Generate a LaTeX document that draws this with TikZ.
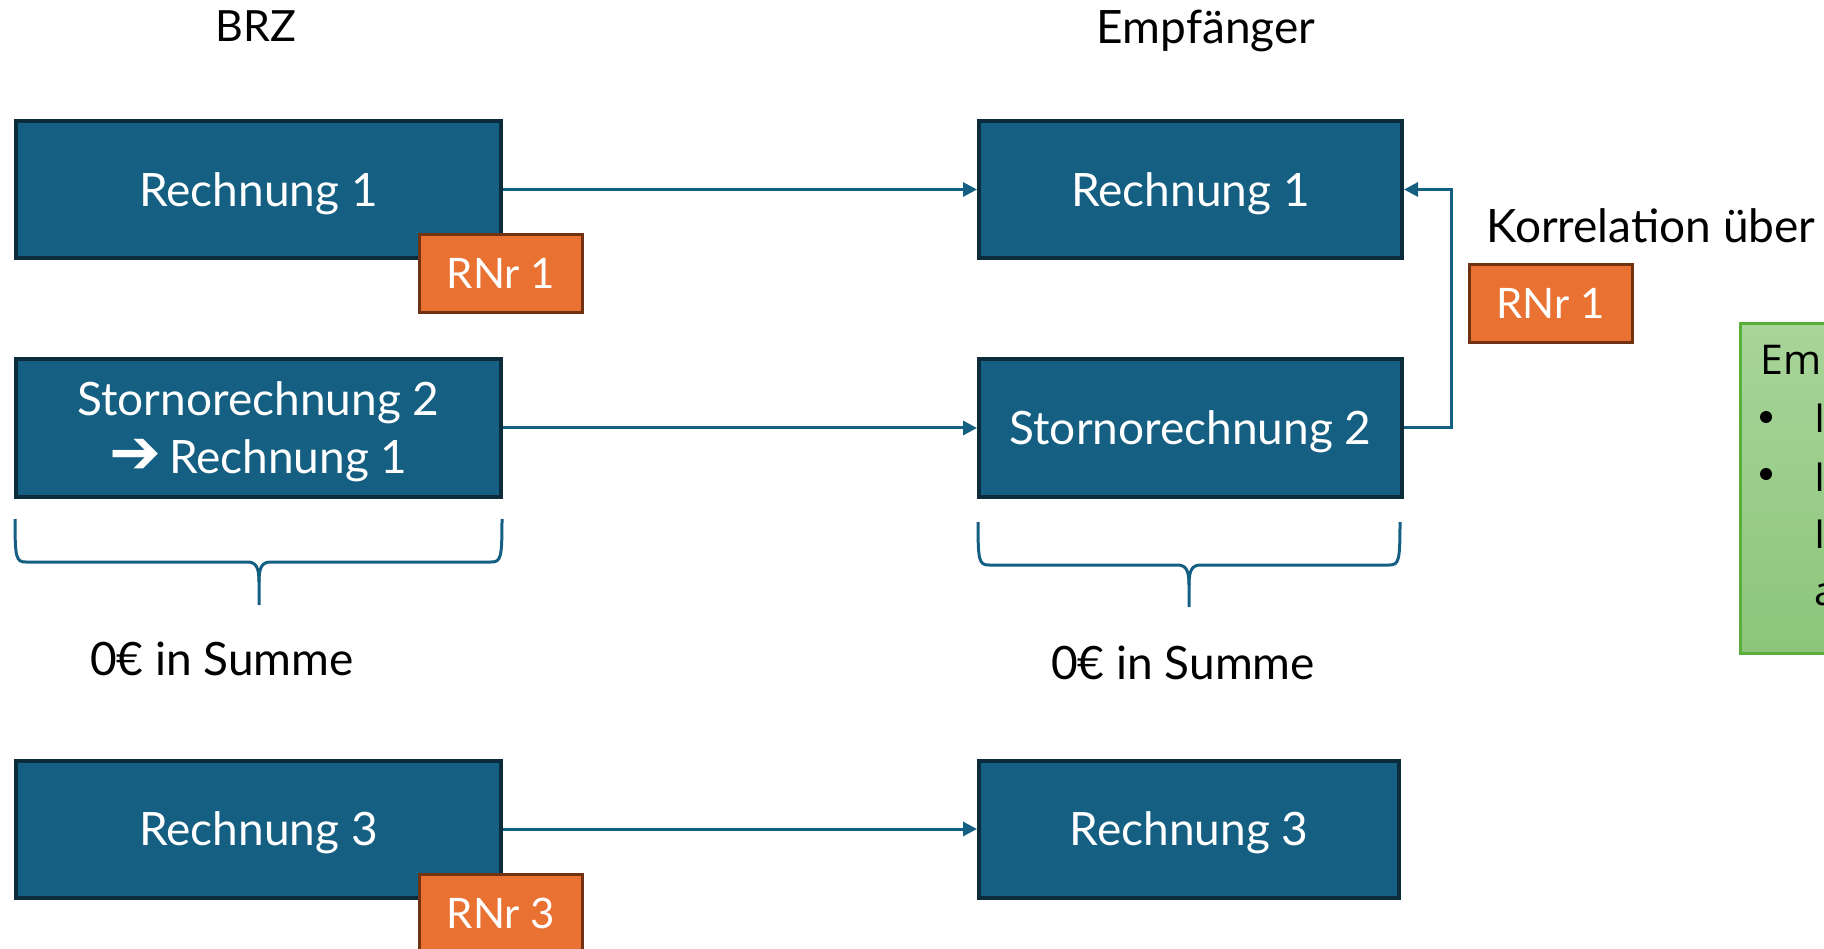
\documentclass[tikz,border=0pt]{standalone}
\usepackage{fontspec}
\setmainfont{Lato}
\newfontfamily\symfont{DejaVu Sans}
\newfontfamily\notefont{Open Sans}
\usetikzlibrary{arrows.meta}
\definecolor{boxfill}{HTML}{156082}
\definecolor{boxline}{HTML}{0C2C3C}
\definecolor{nrfill}{HTML}{E97132}
\definecolor{nrline}{HTML}{713212}
\definecolor{notetop}{HTML}{A8D59A}
\definecolor{notebot}{HTML}{8CC57A}
\definecolor{noteline}{HTML}{5AAE3A}
\tikzset{box/.style={rectangle,draw=boxline,fill=boxfill,line width=4pt,text=white,align=center,minimum width=485pt,minimum height=137pt,inner sep=0pt,text depth=0pt,font=\fontsize{46}{58}\selectfont}}
\tikzset{nr/.style={rectangle,draw=nrline,fill=nrfill,line width=3pt,text=white,minimum width=163pt,minimum height=78pt,inner sep=0pt,font=\fontsize{42}{50}\selectfont}}
\tikzset{lbl/.style={inner sep=0pt,font=\fontsize{46}{54}\selectfont}}
\tikzset{note/.style={rectangle,draw=noteline,top color=notetop,bottom color=notebot,line width=3pt,minimum width=200pt,minimum height=329pt}}
\tikzset{nt/.style={inner sep=0pt,font=\notefont\fontsize{40}{48}\selectfont}}
\tikzset{con/.style={-{Triangle[length=14pt,width=14pt]},line width=3pt,draw=boxfill}}
\tikzset{brc/.style={line width=3pt,draw=boxfill}}

\begin{document}
\begin{tikzpicture}[x=1pt,y=-1pt]
\useasboundingbox (0,0) rectangle (1824,949);
\clip (0,0) rectangle (1824,949);

\node[lbl,anchor=base,font=\fontsize{43}{52}\selectfont](H1) at (256,42) {BRZ};
\node[lbl,anchor=base](H2) at (1206,44) {Empfänger};

\node[box](L1) at (258.5,189.5) {Rechnung 1};
\node[box](L2) at (258.5,428) {Stornorechnung 2\\{\symfont\fontsize{62}{58}\selectfont ➔}\,Rechnung 1};
\node[box](L3) at (258.5,829) {Rechnung 3};
\node[box,minimum width=423pt](R1) at (1190.5,189.5) {Rechnung 1};
\node[box,minimum width=423pt](R2) at (1190.5,428) {Stornorechnung 2};
\node[box,minimum width=420pt](R3) at (1189,829) {Rechnung 3};

\node[nr](N1) at (501,273.5) {RNr 1};
\node[nr](N3) at (501,913.5) {RNr 3};
\node[nr](N2) at (1550.5,303.5) {RNr 1};

\foreach \s/\t in {L1/R1,L2/R2,L3/R3}
  \draw[con] (\s) -- (\t);
\draw[con] (R2.east) -- ++(47,0) |- (R1.east);

\node[lbl,anchor=base west](K) at (1486,243) {Korrelation über};

% braces
\draw[brc] (15,519) .. controls (15,558) and (16,562) .. (26,562) -- (247,562) .. controls (256,562) and (259,567) .. (259,582) -- (259,605);
\draw[brc] (502,519) .. controls (502,558) and (501,562) .. (491,562) -- (271,562) .. controls (262,562) and (259,567) .. (259,582);
\draw[brc] (978,522) .. controls (978,561) and (979,565) .. (989,565) -- (1177,565) .. controls (1186,565) and (1189,570) .. (1189,585) -- (1189,607);
\draw[brc] (1400,522) .. controls (1400,561) and (1399,565) .. (1389,565) -- (1201,565) .. controls (1192,565) and (1189,570) .. (1189,585);

\node[lbl,anchor=base](S1) at (222,675) {0€ in Summe};
\node[lbl,anchor=base](S2) at (1183,679) {0€ in Summe};

% note box
\node[note,anchor=north west](G) at (1738.5,322.5) {};
\node[nt,anchor=base west,font=\notefont\fontsize{41}{48}\selectfont](G0) at (1760,375) {Empfänger:};
\fill (1766,417) circle (6pt);
\fill (1766,474) circle (6pt);
\foreach \w/\y in {Identifiziert/433,Identifiziert/491,Ist/548,anhand/605}
  \node[nt,anchor=base west] at (1814,\y) {\w};
\end{tikzpicture}
\end{document}
